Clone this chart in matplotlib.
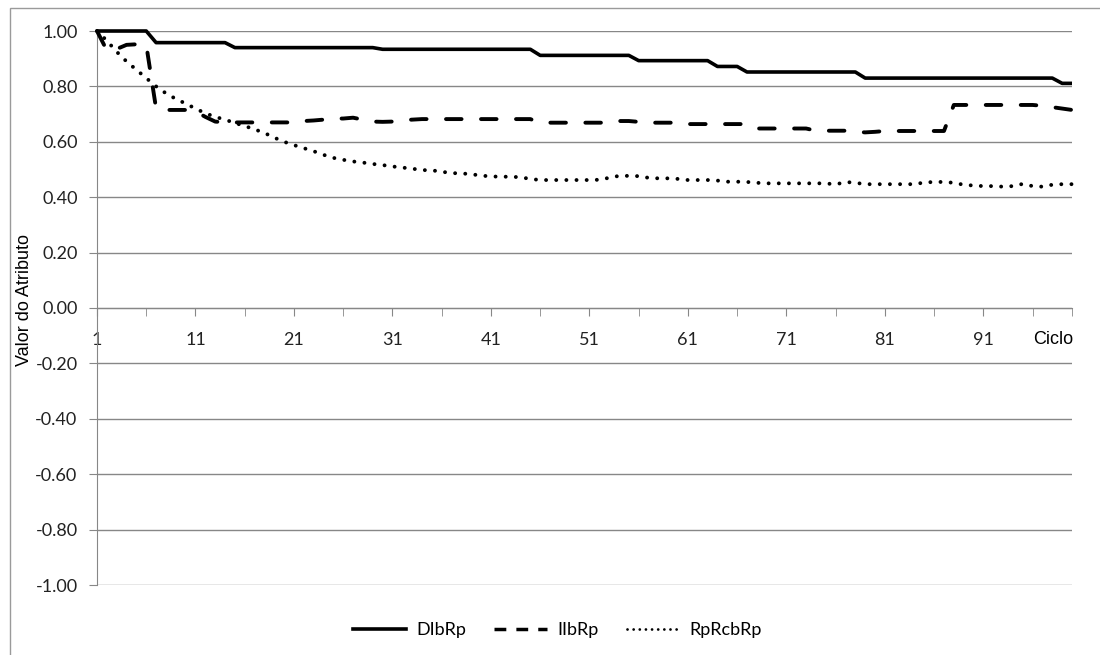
import matplotlib
matplotlib.use('Agg')
import matplotlib.pyplot as plt
from matplotlib.lines import Line2D
from matplotlib.patches import Rectangle
import numpy as np

# cycles 1..100
ciclos = list(range(1, 101))

dibrp = [1.000, 1.000, 1.000, 1.000, 1.000, 1.000,
         0.958, 0.958, 0.958, 0.958, 0.958, 0.958, 0.958, 0.958,
         0.940, 0.940, 0.940, 0.940, 0.940, 0.940, 0.940, 0.940, 0.940, 0.940,
         0.940, 0.940, 0.940, 0.940, 0.940,
         0.934, 0.934, 0.934, 0.934, 0.934, 0.934, 0.934, 0.934, 0.934, 0.934,
         0.934, 0.934, 0.934, 0.934, 0.934, 0.934,
         0.912, 0.912, 0.912, 0.912, 0.912, 0.912, 0.912, 0.912, 0.912, 0.912,
         0.893, 0.893, 0.893, 0.893, 0.893, 0.893, 0.893, 0.893,
         0.872, 0.872, 0.872,
         0.852, 0.852, 0.852, 0.852, 0.852, 0.852, 0.852, 0.852, 0.852, 0.852,
         0.852, 0.852,
         0.830, 0.830, 0.830, 0.830, 0.830, 0.830, 0.830, 0.830, 0.830, 0.830,
         0.830, 0.830, 0.830, 0.830, 0.830, 0.830, 0.830, 0.830, 0.830, 0.830,
         0.811, 0.811]

iibrp = [1.000, 0.930, 0.935, 0.950, 0.952, 0.950, 0.720, 0.715, 0.715, 0.715,
         0.710, 0.690, 0.673, 0.670, 0.670, 0.670, 0.670, 0.670, 0.670, 0.670,
         0.670, 0.675, 0.677, 0.680, 0.684, 0.684, 0.687, 0.680, 0.673, 0.672,
         0.673, 0.678, 0.680, 0.682, 0.682, 0.682, 0.682, 0.682, 0.682, 0.682,
         0.682, 0.682, 0.682, 0.682, 0.682, 0.669, 0.669, 0.669, 0.669, 0.669,
         0.669, 0.669, 0.669, 0.675, 0.675, 0.672, 0.669, 0.669, 0.669, 0.669,
         0.664, 0.664, 0.664, 0.664, 0.664, 0.664, 0.664, 0.648, 0.648, 0.648,
         0.648, 0.648, 0.648, 0.640, 0.640, 0.640, 0.640, 0.636, 0.634, 0.636,
         0.639, 0.639, 0.639, 0.639, 0.639, 0.639, 0.639, 0.733, 0.733, 0.733,
         0.733, 0.733, 0.733, 0.733, 0.733, 0.733, 0.730, 0.725, 0.720, 0.715]

rprcbrp = [1.000, 0.965, 0.925, 0.890, 0.860, 0.830, 0.800, 0.775, 0.755, 0.738,
           0.720, 0.703, 0.690, 0.680, 0.668, 0.657, 0.645, 0.632, 0.615, 0.600,
           0.588, 0.577, 0.566, 0.553, 0.542, 0.535, 0.529, 0.525, 0.520, 0.516,
           0.511, 0.507, 0.503, 0.498, 0.497, 0.492, 0.487, 0.486, 0.483, 0.478,
           0.475, 0.474, 0.474, 0.472, 0.466, 0.462, 0.462, 0.462, 0.462, 0.462,
           0.462, 0.463, 0.470, 0.477, 0.477, 0.476, 0.470, 0.468, 0.468, 0.466,
           0.462, 0.462, 0.462, 0.460, 0.456, 0.456, 0.455, 0.452, 0.450, 0.450,
           0.450, 0.450, 0.450, 0.450, 0.450, 0.446, 0.455, 0.452, 0.447, 0.447,
           0.447, 0.447, 0.447, 0.447, 0.453, 0.455, 0.455, 0.452, 0.445, 0.442,
           0.440, 0.440, 0.438, 0.440, 0.448, 0.440, 0.438, 0.445, 0.447, 0.447]

nomes = ['DIbRp', 'IIbRp', 'RpRcbRp']
y_ticks = [-1.0, -0.8, -0.6, -0.4, -0.2, 0.0, 0.2, 0.4, 0.6, 0.8, 1.0]
x_labels = [1, 11, 21, 31, 41, 51, 61, 71, 81, 91]

grid_col = '#878787'
label_font = ['Lato', 'DejaVu Sans']
title_font = ['Liberation Sans', 'DejaVu Sans']


def draw():
    fig = plt.figure(figsize=(11, 6.55), dpi=100)
    ax = fig.add_axes([97/1100, 1-585/655, (1072-97)/1100, (585-31)/655])

    # outer chart border
    fig.patches.append(Rectangle((10/1100, -0.1), 1.2, 1-8/655+0.1,
                                 transform=fig.transFigure, fill=False,
                                 edgecolor='#9a9a9a', lw=1.0))

    ax.plot(ciclos, dibrp, color='black', lw=2.6, solid_capstyle='butt',
            clip_on=False, zorder=3)
    ax.plot(ciclos, iibrp, color='black', lw=2.8, linestyle=(0, (4, 5)),
            dash_capstyle='round', clip_on=False, zorder=3)
    ax.plot(ciclos, rprcbrp, color='black', lw=2.8, linestyle=(0, (0.01, 2.6)),
            dash_capstyle='round', clip_on=False, zorder=3)

    # spine position first, it resets the ticks
    for s in ['top', 'right']:
        ax.spines[s].set_visible(False)
    ax.spines['left'].set_color(grid_col)
    ax.spines['bottom'].set_color(grid_col)
    ax.spines['bottom'].set_position(('data', 0))

    ax.set_xlim(1, 100)
    ax.set_ylim(-1, 1)
    ax.set_yticks(y_ticks)
    ax.set_yticklabels(['{:.2f}'.format(v) for v in y_ticks], family=label_font,
                       fontsize=13, color='#222222')
    ax.set_xticks(x_labels)
    ax.set_xticklabels([str(v) for v in x_labels], family=label_font,
                       fontsize=13, color='#222222')
    ax.set_xticks(list(range(6, 100, 10)) + [100], minor=True)

    ax.yaxis.grid(True, color=grid_col, lw=1.0)
    ax.set_axisbelow(True)
    ax.tick_params(axis='y', length=6, color=grid_col, pad=8)
    ax.tick_params(axis='x', which='both', length=6, color=grid_col, pad=11)

    ax.set_ylabel('Valor do Atributo', family=title_font, fontsize=13)
    ax.yaxis.set_label_coords(-0.0656, 0.514)
    ax.text(98.1, -0.115, 'Ciclo', family=title_font, fontsize=13,
            ha='center', va='center')

    handles = [Line2D([], [], color='black', lw=2.6),
               Line2D([], [], color='black', lw=2.5, linestyle=(0, (3.4, 2.9))),
               Line2D([], [], color='black', lw=2.0, linestyle=(0, (0.01, 2.2)),
                      dash_capstyle='round')]
    fig.legend(handles, nomes, loc='center', bbox_to_anchor=(0.507, 0.038),
               ncol=3, frameon=False, handlelength=2.95, handletextpad=0.55,
               columnspacing=1.55, prop={'family': label_font, 'size': 13})

    fig.savefig('out.png', dpi=100)


if __name__ == '__main__':
    draw()
